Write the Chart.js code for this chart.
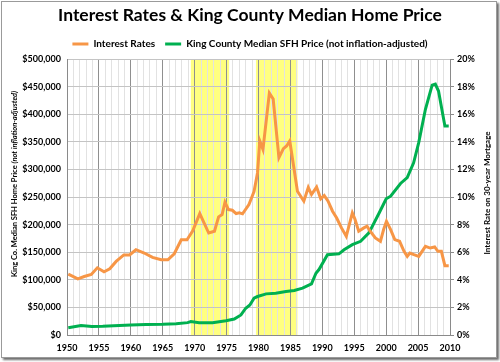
<!DOCTYPE html>
<html>
<head>
<meta charset="utf-8">
<script src="https://cdn.jsdelivr.net/npm/chart.js@4.4.1/dist/chart.umd.min.js"></script>
<style>
  html, body { margin: 0; padding: 0; background: #fff; }
  #wrap { position: absolute; left: 0; top: 0; width: 500px; height: 362px; }
  #frame {
    position: absolute; left: 1px; top: 1px; width: 494px; height: 355px;
    border: 1px solid #9a9a9a; box-shadow: 2px 2px 2px #6e6e6e; pointer-events: none;
  }
</style>
</head>
<body>
<div id="wrap">
  <canvas id="homeChart" width="500" height="362"></canvas>
  <div id="frame"></div>
</div>
<script>
// ----------------- DATA -----------------
const rateYears = [1950.2, 1951.7, 1952.7, 1953.8, 1954.75, 1955.8, 1956.7, 1957.7, 1958.9, 1959.8,
  1960.8, 1962.1, 1963.4, 1964.75, 1965.8, 1966.8, 1967.9, 1968.8, 1969.7, 1970.8,
  1972.2, 1973.1, 1973.75, 1974.3, 1974.75, 1975.3, 1975.9, 1976.5, 1977.0, 1977.5,
  1978.5, 1979.3, 1979.85, 1980.2, 1980.7, 1981.7, 1982.3, 1983.2, 1983.9, 1984.4,
  1984.9, 1986.1, 1987.1, 1987.8, 1988.3, 1989.1, 1989.75, 1990.3, 1990.9, 1991.6,
  1992.25, 1993.0, 1993.75, 1994.7, 1995.1, 1995.7, 1996.5, 1997.0, 1997.5, 1998.3,
  1999.1, 1999.6, 2000.05, 2000.7, 2001.35, 2002.1, 2002.8, 2003.3, 2003.7, 2004.35,
  2005.1, 2006.15, 2006.9, 2007.6, 2008.1, 2008.65, 2009.2, 2009.8];
const rateValues = [4.41, 4.07, 4.24, 4.39, 4.87, 4.58, 4.8, 5.33, 5.8, 5.8,
  6.18, 5.94, 5.62, 5.45, 5.45, 5.89, 6.9, 6.9, 7.55, 8.8,
  7.39, 7.52, 8.56, 8.73, 9.62, 9.09, 9.04, 8.8, 8.85, 8.78,
  9.45, 10.4, 11.76, 14.06, 13.45, 17.53, 17.1, 12.85, 13.5, 13.7,
  14.06, 10.42, 9.7, 10.69, 10.18, 10.72, 9.87, 10.1, 9.7, 8.97,
  8.48, 7.76, 7.15, 8.85, 8.41, 7.52, 7.76, 7.88, 7.52, 7.03,
  6.79, 7.64, 8.24, 7.64, 6.91, 6.79, 6.06, 5.7, 5.94, 5.82,
  5.7, 6.42, 6.3, 6.38, 6.06, 6.06, 5.02, 5.02];

const priceYears = [1950.2, 1952.2, 1953.9, 1955.6, 1958.2, 1960.0, 1962.4, 1965.0, 1967.1, 1968.9,
  1969.4, 1970.7, 1972.8, 1974.9, 1976.2, 1977.25, 1978.0, 1978.65, 1979.3, 1979.85,
  1981.2, 1982.7, 1984.3, 1985.6, 1986.9, 1988.3, 1989.0, 1989.5, 1990.8, 1992.6,
  1993.4, 1994.7, 1996.0, 1997.3, 1998.9, 2000.0, 2000.7, 2002.25, 2003.3, 2004.3,
  2005.1, 2006.15, 2007.2, 2007.7, 2008.2, 2009.2, 2009.8];
const priceValues = [13300, 17000, 15500, 15800, 17000, 18200, 18800, 19400, 20600, 22400,
  24500, 22400, 22400, 26000, 29000, 36400, 48500, 54500, 66700, 69700,
  74500, 75800, 78800, 80600, 84800, 92700, 112000, 119000, 145500, 147000,
  154500, 163600, 169700, 185000, 221000, 246700, 251500, 274500, 285000, 312000,
  348500, 409000, 452700, 454500, 442000, 378700, 378700];

// highlighted periods (yellow bands)
const bandStarts = [1969.4, 1979.6];
const bandEnds = [1975.4, 1986.1];

const xTickStep = 5;

// ----------------- CHART SETUP -----------------
const orange = "#F79646";
const green = "#00B050";
const tickFont = { family: "Lato", size: 9, weight: "bold" };

const isMajor = c => c.tick && c.tick.value % xTickStep === 0;

const bandPlugin = {
  id: "bands",
  beforeDraw(chart) {
    const { ctx, chartArea, scales } = chart;
    ctx.save();
    ctx.fillStyle = "#FFFF80";
    for (let i = 0; i < bandStarts.length; i++) {
      const x1 = scales.x.getPixelForValue(bandStarts[i]);
      const x2 = scales.x.getPixelForValue(bandEnds[i]);
      ctx.fillRect(x1, chartArea.top, x2 - x1, chartArea.bottom - chartArea.top);
    }
    ctx.restore();
  }
};

// axis titles (left one mixes normal + italic text)
const axisTitlePlugin = {
  id: "axisTitles",
  afterDraw(chart) {
    const { ctx } = chart;
    ctx.save();
    ctx.fillStyle = "#000";
    ctx.textBaseline = "middle";

    // left
    const partA = "King Co. Median SFH Home Price ";
    const partB = "(not inflation-adjusted)";
    ctx.font = "bold 7.5px Lato";
    const wA = ctx.measureText(partA).width;
    ctx.font = "italic bold 7.5px Lato";
    const wB = ctx.measureText(partB).width;
    ctx.translate(15, 184);
    ctx.rotate(-Math.PI / 2);
    ctx.textAlign = "left";
    ctx.font = "bold 7.5px Lato";
    ctx.fillText(partA, -(wA + wB) / 2, 0);
    ctx.font = "italic bold 7.5px Lato";
    ctx.fillText(partB, -(wA + wB) / 2 + wA, 0);
    ctx.restore();

    // right
    ctx.save();
    ctx.fillStyle = "#000";
    ctx.textBaseline = "middle";
    ctx.textAlign = "center";
    ctx.font = "bold 8px Lato";
    ctx.translate(487, 193);
    ctx.rotate(-Math.PI / 2);
    ctx.fillText("Interest Rate on 30-year Mortgage", 0, 0);
    ctx.restore();
  }
};

const ctx = document.getElementById("homeChart").getContext("2d");

const homeChart = new Chart(ctx, {
  type: "line",
  data: {
    datasets: [
      {
        label: "Interest Rates",
        data: rateYears.map((y, i) => ({ x: y, y: rateValues[i] })),
        yAxisID: "y1",
        borderColor: orange,
        backgroundColor: orange,
        borderWidth: 3,
        pointRadius: 0,
        tension: 0
      },
      {
        label: "King County Median SFH Price (not inflation-adjusted)",
        data: priceYears.map((y, i) => ({ x: y, y: priceValues[i] })),
        yAxisID: "y",
        borderColor: green,
        backgroundColor: green,
        borderWidth: 3,
        pointRadius: 0,
        tension: 0
      }
    ]
  },
  plugins: [bandPlugin, axisTitlePlugin],
  options: {
    responsive: false,
    animation: false,
    layout: { padding: { top: 0, right: 0, bottom: 0, left: 0 } },
    plugins: {
      title: {
        display: true,
        text: "Interest Rates & King County Median Home Price",
        color: "#000",
        font: { family: "Lato", size: 17.5, weight: "bold" },
        padding: { top: 5, bottom: 3 }
      },
      legend: {
        display: true,
        labels: {
          usePointStyle: true,
          pointStyle: "line",
          pointStyleWidth: 16,
          color: "#000",
          padding: 10,
          font: { family: "Lato", size: 10, weight: "bold" }
        }
      },
      tooltip: { enabled: false }
    },
    scales: {
      x: {
        type: "linear",
        min: 1950,
        max: 2010,
        afterFit(scale) { scale.height = 27; },
        ticks: {
          stepSize: 1,
          autoSkip: false,
          maxRotation: 0,
          padding: 8,
          color: "#000",
          font: tickFont,
          callback: v => (v % xTickStep === 0 ? String(v) : "")
        },
        grid: {
          color: c => (isMajor(c) ? "#8f8f8f" : "#e2e2e2"),
          borderDash: c => (isMajor(c) ? [3, 3] : []),
          dash: c => (isMajor(c) ? [3, 3] : []),
          lineWidth: 1,
          drawTicks: false
        },
        border: { color: "#8a8a8a" }
      },
      y: {
        position: "left",
        min: 0,
        max: 500000,
        afterFit(scale) { scale.width = 67; },
        ticks: {
          stepSize: 50000,
          color: "#000",
          font: tickFont,
          padding: 6,
          callback: v => "$" + v.toLocaleString("en-US")
        },
        grid: { color: "#c4c4c4", drawTicks: false },
        border: { color: "#8a8a8a" }
      },
      y1: {
        position: "right",
        min: 0,
        max: 20,
        afterFit(scale) { scale.width = 50; },
        ticks: {
          stepSize: 2,
          color: "#000",
          font: tickFont,
          padding: 3,
          callback: v => v + "%"
        },
        grid: { drawOnChartArea: false, tickLength: 4, tickColor: "#8a8a8a" },
        border: { color: "#8a8a8a", dash: [3, 3] }
      }
    }
  }
});
</script>
</body>
</html>
